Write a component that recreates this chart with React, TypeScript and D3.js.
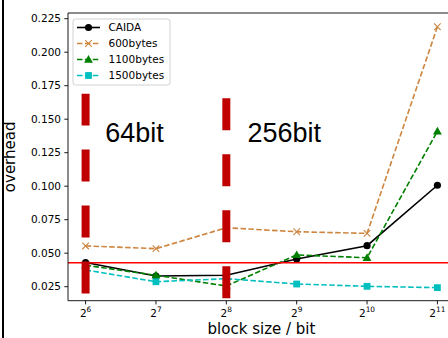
import { useEffect, useRef } from "react";
import * as d3 from "d3";

// block size exponents (2^n bits)
const exponents = [6, 7, 8, 9, 10, 11];
const caida = [0.043, 0.033, 0.0335, 0.0457, 0.0556, 0.1007];
const bytes600 = [0.0554, 0.0534, 0.069, 0.066, 0.0648, 0.219];
const bytes1100 = [0.041, 0.0335, 0.0255, 0.0487, 0.0466, 0.141];
const bytes1500 = [0.0375, 0.0287, 0.031, 0.027, 0.0253, 0.0243];

const yTicks = [0.025, 0.05, 0.075, 0.1, 0.125, 0.15, 0.175, 0.2, 0.225];
const refLevel = 0.0429;

// marked block sizes
const markExps = [6, 8];
const markLow = [0.02, 0.0163];
const markHigh = [0.169, 0.1656];
const markLabels = ["64bit", "256bit"];
const markLabelX = [6.28, 8.3];
const markLabelY = 0.133;

const FONT = "DejaVu Sans, sans-serif";

export default function App() {
    const svgRef = useRef<SVGSVGElement>(null);

    useEffect(() => {
        const width = 448;
        const height = 338;
        const left = 68, right = 455, top = 13, bottom = 300.7;

        const svg = d3.select(svgRef.current)
            .attr("width", width)
            .attr("height", height)
            .style("background", "#ffffff");

        svg.selectAll("*").remove();

        const x = d3.scaleLinear().domain([5.75, 11.25]).range([left, right]);
        const y = d3.scaleLinear().domain([0.01455, 0.22925]).range([bottom, top]);

        // outer figure border on the left
        svg.append("line")
            .attr("x1", 3).attr("x2", 3).attr("y1", 0).attr("y2", height)
            .attr("stroke", "#000").attr("stroke-width", 2);

        const series = [
            { name: "CAIDA", values: caida, color: "#000000", dash: null, marker: "circle" },
            { name: "600bytes", values: bytes600, color: "#cd853f", dash: "5.5 2.4", marker: "x" },
            { name: "1100bytes", values: bytes1100, color: "#008000", dash: "5.5 2.4", marker: "triangle" },
            { name: "1500bytes", values: bytes1500, color: "#00bfbf", dash: "5.5 2.4", marker: "square" },
        ];

        const drawMarker = (g: any, kind: string, cx: number, cy: number, color: string) => {
            if (kind === "circle") {
                g.append("circle").attr("cx", cx).attr("cy", cy).attr("r", 3.6).attr("fill", color);
            } else if (kind === "square") {
                g.append("rect").attr("x", cx - 3.4).attr("y", cy - 3.4)
                    .attr("width", 6.8).attr("height", 6.8).attr("fill", color);
            } else if (kind === "triangle") {
                g.append("path")
                    .attr("d", d3.symbol().type(d3.symbolTriangle).size(34)())
                    .attr("transform", `translate(${cx},${cy + 0.6})`)
                    .attr("fill", color);
            } else {
                g.append("path")
                    .attr("d", `M${cx - 3.3},${cy - 3.3}L${cx + 3.3},${cy + 3.3}M${cx - 3.3},${cy + 3.3}L${cx + 3.3},${cy - 3.3}`)
                    .attr("stroke", color).attr("stroke-width", 1.1).attr("fill", "none");
            }
        };

        const plot = svg.append("g");
        plot.append("clipPath").attr("id", "plot-clip")
            .append("rect").attr("x", left).attr("y", top)
            .attr("width", right - left).attr("height", bottom - top);
        const inner = plot.append("g").attr("clip-path", "url(#plot-clip)");

        const line = d3.line<number>()
            .x((_, i) => x(exponents[i]))
            .y(d => y(d));

        series.forEach(s => {
            inner.append("path")
                .attr("d", line(s.values))
                .attr("fill", "none")
                .attr("stroke", s.color)
                .attr("stroke-width", 1.6)
                .attr("stroke-dasharray", s.dash);
            s.values.forEach((v, i) => drawMarker(inner, s.marker, x(exponents[i]), y(v), s.color));
        });

        // reference level
        inner.append("line")
            .attr("x1", left).attr("x2", right)
            .attr("y1", y(refLevel)).attr("y2", y(refLevel))
            .attr("stroke", "#ff0000").attr("stroke-width", 1.5);

        // thick dashed markers, drawn bottom-up so the dash starts at the bottom
        markExps.forEach((e, i) => {
            inner.append("line")
                .attr("x1", x(e)).attr("x2", x(e))
                .attr("y1", y(markLow[i])).attr("y2", y(markHigh[i]))
                .attr("stroke", "#c00000").attr("stroke-width", 8)
                .attr("stroke-dasharray", "32 24");
            inner.append("text")
                .attr("x", x(markLabelX[i])).attr("y", y(markLabelY))
                .attr("font-family", "Liberation Sans, Arial, sans-serif")
                .attr("font-size", 27)
                .attr("fill", "#000")
                .text(markLabels[i]);
        });

        // spines
        const axisColor = "#000";
        svg.append("line").attr("x1", left).attr("x2", left).attr("y1", top).attr("y2", bottom)
            .attr("stroke", axisColor).attr("stroke-width", 0.9);
        svg.append("line").attr("x1", left).attr("x2", right).attr("y1", bottom).attr("y2", bottom)
            .attr("stroke", axisColor).attr("stroke-width", 0.9);
        svg.append("line").attr("x1", left).attr("x2", right).attr("y1", top).attr("y2", top)
            .attr("stroke", axisColor).attr("stroke-width", 0.9);

        // y ticks
        yTicks.forEach(t => {
            svg.append("line").attr("x1", left - 3.7).attr("x2", left)
                .attr("y1", y(t)).attr("y2", y(t))
                .attr("stroke", axisColor).attr("stroke-width", 0.9);
            svg.append("text")
                .attr("x", left - 7).attr("y", y(t) + 3.8)
                .attr("text-anchor", "end")
                .attr("font-family", FONT).attr("font-size", 10.5)
                .attr("fill", "#000")
                .text(d3.format(".3f")(t));
        });

        // x ticks as powers of two
        exponents.forEach(e => {
            svg.append("line").attr("x1", x(e)).attr("x2", x(e))
                .attr("y1", bottom).attr("y2", bottom + 3.7)
                .attr("stroke", axisColor).attr("stroke-width", 0.9);
            const txt = svg.append("text")
                .attr("x", x(e)).attr("y", 316.7)
                .attr("text-anchor", "middle")
                .attr("font-family", FONT).attr("font-size", 10.5)
                .attr("fill", "#000");
            txt.append("tspan").text("2");
            txt.append("tspan").attr("dy", -4.6).attr("font-size", 7.4).text(String(e));
        });

        // axis labels
        svg.append("text")
            .attr("x", (left + right) / 2).attr("y", 334)
            .attr("text-anchor", "middle")
            .attr("font-family", FONT).attr("font-size", 15)
            .attr("fill", "#000")
            .text("block size / bit");
        svg.append("text")
            .attr("transform", `translate(15, ${(top + bottom) / 2}) rotate(-90)`)
            .attr("text-anchor", "middle")
            .attr("font-family", FONT).attr("font-size", 15)
            .attr("fill", "#000")
            .text("overhead");

        // legend
        const lg = svg.append("g");
        lg.append("rect")
            .attr("x", 73).attr("y", 19).attr("width", 97).attr("height", 66)
            .attr("rx", 2.5)
            .attr("fill", "#fff").attr("fill-opacity", 0.8)
            .attr("stroke", "#cccccc").attr("stroke-width", 0.9);
        series.forEach((s, i) => {
            const cy = 27.5 + i * 16;
            lg.append("line").attr("x1", 77).attr("x2", 100).attr("y1", cy).attr("y2", cy)
                .attr("stroke", s.color).attr("stroke-width", 1.6)
                .attr("stroke-dasharray", s.dash);
            drawMarker(lg, s.marker, 88.5, cy, s.color);
            lg.append("text")
                .attr("x", 108.5).attr("y", cy + 3.8)
                .attr("font-family", FONT).attr("font-size", 10.5)
                .attr("fill", "#000")
                .text(s.name);
        });
    }, []);

    return <svg ref={svgRef} style={{ position: "absolute", left: 0, top: 0 }}></svg>;
}
